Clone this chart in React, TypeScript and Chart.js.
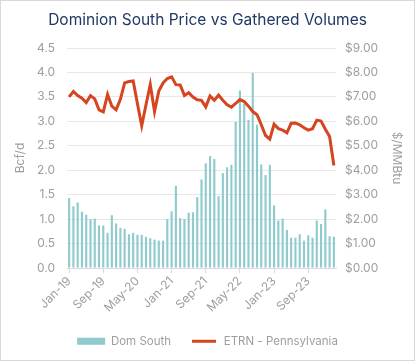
import React, { useEffect, useRef } from "react";
import { Chart, registerables } from "chart.js";

Chart.register(...registerables);

const categories = [
  "Jan-19","Feb-19","Mar-19","Apr-19","May-19","Jun-19","Jul-19","Aug-19","Sep-19","Oct-19","Nov-19","Dec-19",
  "Jan-20","Feb-20","Mar-20","Apr-20","May-20","Jun-20","Jul-20","Aug-20","Sep-20","Oct-20","Nov-20","Dec-20",
  "Jan-21","Feb-21","Mar-21","Apr-21","May-21","Jun-21","Jul-21","Aug-21","Sep-21","Oct-21","Nov-21","Dec-21",
  "Jan-22","Feb-22","Mar-22","Apr-22","May-22","Jun-22","Jul-22","Aug-22","Sep-22","Oct-22","Nov-22","Dec-22",
  "Jan-23","Feb-23","Mar-23","Apr-23","May-23","Jun-23","Jul-23","Aug-23","Sep-23","Oct-23","Nov-23","Dec-23",
  "Jan-24","Feb-24","Mar-24",
];

const domSouth = [
  1.43, 1.26, 1.34, 1.15, 1.09, 1.0, 1.01, 0.87, 0.87, 0.72, 1.08, 0.91,
  0.82, 0.8, 0.69, 0.72, 0.68, 0.68, 0.64, 0.61, 0.58, 0.56, 0.56, 1.0,
  1.16, 1.68, 1.02, 1.0, 1.13, 1.14, 1.45, 1.81, 2.14, 2.29, 2.23, 1.47,
  1.94, 2.06, 2.11, 2.99, 3.63, 3.36, 3.03, 3.99, 2.93, 2.12, 1.9, 2.11,
  1.28, 0.97, 1.01, 0.78, 0.62, 0.62, 0.69, 0.56, 0.67, 0.62, 0.97, 0.9,
  1.2, 0.65, 0.64,
];

const etrnPennsylvania = [
  7.0, 7.22, 7.05, 6.95, 6.77, 7.05, 6.92, 6.47, 6.39, 7.1, 6.62, 6.47,
  6.9, 7.57, 7.63, 7.65, 6.72, 5.82, 6.68, 7.51, 6.4, 7.24, 7.57, 7.75,
  7.82, 7.5, 7.49, 7.06, 7.17, 6.99, 6.88, 6.86, 6.59, 7.04, 6.86, 7.07,
  6.86, 6.68, 6.58, 6.73, 6.89, 6.81, 6.62, 6.4, 6.27, 5.86, 5.42, 5.27,
  5.88, 5.7, 5.64, 5.53, 5.92, 5.93, 5.86, 5.74, 5.64, 5.7, 6.05, 6.01,
  5.68, 5.38, 4.19,
];

const TITLE = "Dominion South Price vs Gathered Volumes";
const BAR_COLOR = "#8fcacc";
const LINE_COLOR = "#d5451f";
const TEXT_GRAY = "#9e9e9e";
const FONT = "Inter";

export default function App() {
  const ref = useRef<HTMLCanvasElement>(null);

  useEffect(() => {
    document.body.style.margin = "0";
    const canvas = ref.current;
    if (!canvas) return;

    const framePlugin = {
      id: "frame",
      beforeDraw(chart: any) {
        const c = chart.ctx;
        c.save();
        c.fillStyle = "#ffffff";
        c.fillRect(0, 0, chart.width, chart.height);
        c.restore();
      },
      afterDraw(chart: any) {
        const c = chart.ctx;
        c.save();
        c.strokeStyle = "#d9d9d9";
        c.lineWidth = 1;
        c.strokeRect(0.5, 0.5, chart.width - 1, chart.height - 1);
        c.restore();
      },
    };

    const chart = new Chart(canvas, {
      type: "bar",
      data: {
        labels: categories,
        datasets: [
          {
            type: "bar",
            label: "Dom South",
            data: domSouth,
            backgroundColor: BAR_COLOR,
            borderWidth: 0,
            barPercentage: 0.5,
            categoryPercentage: 1,
            yAxisID: "y",
            order: 2,
          },
          {
            type: "line",
            label: "ETRN - Pennsylvania",
            data: etrnPennsylvania,
            borderColor: LINE_COLOR,
            backgroundColor: LINE_COLOR,
            borderWidth: 3,
            pointRadius: 0,
            tension: 0,
            yAxisID: "y1",
            order: 1,
          },
        ],
      },
      options: {
        responsive: false,
        animation: false,
        layout: { padding: { top: 0, left: 0, right: 0, bottom: 4 } },
        plugins: {
          tooltip: { enabled: false },
          title: {
            display: true,
            text: TITLE,
            color: "#1f3864",
            font: { family: FONT, size: 15.5, weight: "normal" },
            padding: { top: 11, bottom: 18.4 },
          },
          legend: {
            position: "bottom",
            labels: {
              boxWidth: 28,
              boxHeight: 7,
              padding: 19,
              color: TEXT_GRAY,
              font: { family: FONT, size: 11.5 },
              generateLabels: () => [
                {
                  text: "Dom South",
                  fillStyle: BAR_COLOR,
                  strokeStyle: BAR_COLOR,
                  lineWidth: 0,
                  hidden: false,
                  datasetIndex: 0,
                  fontColor: TEXT_GRAY,
                },
                {
                  text: "ETRN - Pennsylvania",
                  fillStyle: LINE_COLOR,
                  strokeStyle: "#ffffff",
                  lineWidth: 4,
                  hidden: false,
                  datasetIndex: 1,
                  fontColor: TEXT_GRAY,
                },
              ],
            },
          },
        },
        scales: {
          x: {
            type: "category",
            offset: true,
            grid: {
              offset: false,
              drawOnChartArea: false,
              drawTicks: true,
              tickLength: 5,
              color: (ctx: any) => (ctx.index % 8 === 0 ? "#d9d9d9" : "rgba(0,0,0,0)"),
            },
            border: { display: true, color: "#d9d9d9" },
            ticks: {
              autoSkip: false,
              maxRotation: 45,
              minRotation: 45,
              padding: 1,
              color: TEXT_GRAY,
              font: { family: FONT, size: 12 },
              callback: (_v: any, i: number) => (i % 8 === 0 ? categories[i] : ""),
            },
            afterFit: (s: any) => {
              s.height = 48.5;
            },
          },
          y: {
            position: "left",
            min: 0,
            max: 4.5,
            grid: { color: "#e8e8e8", drawTicks: false },
            border: { display: false },
            ticks: {
              stepSize: 0.5,
              padding: 12,
              color: TEXT_GRAY,
              font: { family: FONT, size: 12 },
              callback: (v: any) => Number(v).toFixed(1),
            },
            title: {
              display: true,
              text: "Bcf/d",
              color: TEXT_GRAY,
              font: { family: FONT, size: 12 },
              padding: { top: 13, bottom: 0 },
            },
            afterFit: (s: any) => {
              s.width = 67;
            },
          },
          y1: {
            position: "right",
            min: 0,
            max: 9,
            grid: { drawOnChartArea: false, drawTicks: false },
            border: { display: false },
            ticks: {
              stepSize: 1,
              padding: 9,
              color: TEXT_GRAY,
              font: { family: FONT, size: 12 },
              callback: (v: any) => "$" + Number(v).toFixed(2),
            },
            title: {
              display: true,
              text: "$/MMBtu",
              color: TEXT_GRAY,
              font: { family: FONT, size: 12 },
              padding: { top: 11, bottom: 0 },
            },
            afterFit: (s: any) => {
              s.width = 79;
            },
          },
        },
      },
      plugins: [framePlugin],
    });

    return () => chart.destroy();
  }, []);

  return (
    <div style={{ width: 415, height: 361 }}>
      <canvas ref={ref} width={415} height={361} style={{ width: 415, height: 361, display: "block" }} />
    </div>
  );
}
